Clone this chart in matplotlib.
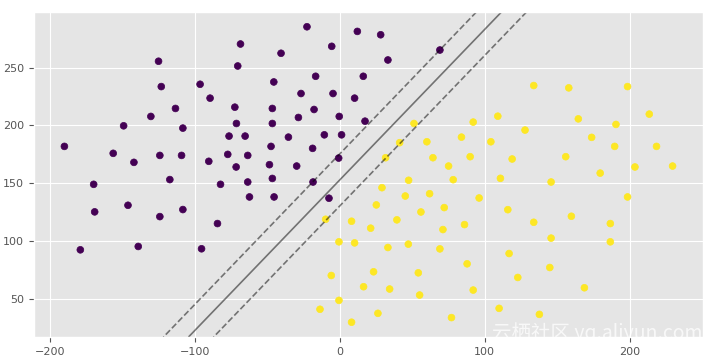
import numpy as np
from matplotlib import pyplot as plt

# class 0 points (purple)
x0 = [-190.3, -125.3, -123.4, -149.4, -130.6, -113.6, -108.5, -156.6, -142.3, -124.4,
      -109.4, -96.6, -89.7, -68.7, -70.6, -72.6, -71.5, -76.6, -65.5, -77.5,
      -63.7, -71.7, -90.6, -117.5, -63.7, -45.7, -46.7, -46.7, -47.6, -48.7,
      -46.7, -40.7, -22.8, -26.9, -28.7, -35.6, -29.9, -16.8, -17.9, -18.9,
      -10.8, -5.7, -4.8, -0.5, 1.1, -0.9, 10.1, 12.0, 28.1, 69.0,
      33.1, 16.1, 17.3, -170.1, -169.4, -179.3, -146.4, -139.3, -124.4, -108.5,
      -95.6, -84.6, -82.5, -62.5, -45.5, -18.6, -7.6]
y0 = [181.9, 255.5, 233.6, 199.7, 207.8, 214.7, 197.7, 175.9, 168.1, 174.1,
      174.1, 235.6, 223.6, 270.4, 251.4, 215.8, 201.7, 190.8, 190.8, 175.0,
      174.1, 164.1, 169.0, 153.2, 151.1, 237.6, 214.7, 201.7, 181.9, 166.1,
      154.2, 262.4, 285.3, 227.6, 206.9, 189.9, 164.9, 242.5, 213.8, 180.2,
      191.9, 268.4, 227.6, 207.8, 191.9, 171.8, 223.6, 281.3, 278.4, 265.2,
      256.6, 242.5, 203.7, 149.1, 125.3, 92.5, 131.0, 95.4, 121.2, 127.3,
      93.4, 115.2, 149.1, 138.2, 138.2, 151.1, 137.1]

# class 1 points (yellow)
x1 = [-9.9, 8.0, -0.7, 10.1, -6.0, -0.7, -13.8, 8.0, 47.4, 78.2,
      110.8, 145.8, 179.7, 29.0, 45.1, 61.9, 96.1, 198.6, 25.1, 55.9,
      72.0, 115.9, 39.3, 21.2, 71.1, 86.0, 133.8, 159.8, 186.7, 33.1,
      47.2, 69.0, 116.8, 145.8, 186.7, 87.8, 23.2, 54.1, 144.9, 122.8,
      16.3, 34.3, 55.0, 92.0, 168.8, 109.9, 26.2, 77.0, 137.7, 133.8,
      158.0, 198.6, 213.6, 109.0, 92.0, 164.6, 190.6, 51.1, 127.8, 83.9,
      173.8, 60.0, 41.2, 104.2, 189.7, 218.6, 89.9, 64.2, 118.9, 155.9,
      75.0, 31.5, 203.7, 229.7]
y1 = [118.9, 117.2, 99.4, 98.5, 70.3, 48.8, 41.1, 29.9, 152.6, 153.1,
      154.3, 151.1, 158.8, 146.2, 139.0, 141.0, 137.3, 138.2, 131.3, 125.2,
      129.0, 127.2, 118.4, 111.2, 110.0, 114.3, 116.3, 121.5, 115.2, 94.5,
      97.4, 93.3, 89.3, 102.6, 99.4, 80.4, 73.5, 72.6, 77.2, 68.6,
      60.6, 58.6, 53.4, 57.7, 59.7, 41.9, 37.6, 33.9, 36.7, 234.5,
      232.5, 233.6, 209.8, 208.0, 202.9, 205.7, 200.9, 201.7, 196.0, 189.9,
      189.7, 185.9, 185.1, 185.9, 181.9, 181.9, 173.0, 172.1, 171.0, 173.0,
      164.9, 172.1, 164.1, 164.9]

# linear decision function f = w[0]*x + w[1]*y + b (margins at f = +-1)
w = [1.3 / 22.5, -1.0 / 22.5]
b = 153.1 / 22.5

X = np.array(x0 + x1)
Y = np.array(y0 + y1)
labels = np.array([0] * len(x0) + [1] * len(x1))

plt.style.use('ggplot')
fig = plt.figure(figsize=(7.13, 3.61), dpi=100)
ax = fig.add_axes([34 / 713, 1 - 337 / 361, 669 / 713, 325 / 361])
ax.scatter(X, Y, c=labels, s=24, cmap='viridis')

xlim = ax.get_xlim()
ylim = ax.get_ylim()
xx, yy = np.meshgrid(np.linspace(xlim[0], xlim[1], 60), np.linspace(ylim[0], ylim[1], 60))
zz = w[0] * xx + w[1] * yy + b
cs = ax.contour(xx, yy, zz, levels=[-1, 0, 1], colors='k', alpha=0.5,
                linestyles=['--', '-', '--'], linewidths=1.2)
ax.set_xlim(xlim)
ax.set_ylim(ylim)
ax.tick_params(labelsize=8, colors='#555555')

# site watermark
fig.text(0.985, 1 - 333 / 361, '云栖社区 yq.aliyun.com', ha='right', va='center', fontsize=14,
         color='white', alpha=0.75, family=['Noto Sans CJK SC', 'DejaVu Sans'])

fig.savefig('out.png', dpi=100)
